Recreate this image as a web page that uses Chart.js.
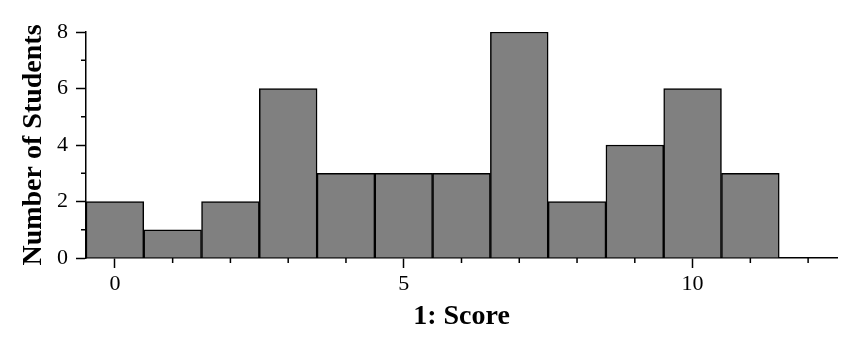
<!DOCTYPE html>
<html>
<head>
<meta charset="utf-8">
<script src="https://cdn.jsdelivr.net/npm/chart.js@4/dist/chart.umd.min.js"></script>
<style>
    body { margin: 0; background: #fff; }
</style>
</head>
<body>
<canvas id="canvasScores" width="852" height="355"></canvas>
<script>
const scores = [0, 1, 2, 3, 4, 5, 6, 7, 8, 9, 10, 11];
const students = [2, 1, 2, 6, 3, 3, 3, 8, 2, 4, 6, 3];
const xLabelTicks = [0, 5, 10];
const yLabelTicks = [0, 2, 4, 6, 8];

Chart.defaults.font.family = "'Liberation Serif', 'Times New Roman', serif";
Chart.defaults.color = '#000';

// Chart.js draws the long ticks, this adds the short unlabelled ones
const minorTicks = {
    id: 'minorTicks',
    afterDraw(chart) {
        const ctx = chart.ctx;
        const x = chart.scales.x;
        const y = chart.scales.y;
        ctx.save();
        ctx.strokeStyle = '#000';
        ctx.lineWidth = 1.5;
        ctx.beginPath();
        x.ticks.forEach(t => {
            if (xLabelTicks.includes(t.value)) return;
            const px = x.getPixelForValue(t.value);
            ctx.moveTo(px, x.top);
            ctx.lineTo(px, x.top + 5);
        });
        y.ticks.forEach(t => {
            if (yLabelTicks.includes(t.value)) return;
            const py = y.getPixelForValue(t.value);
            ctx.moveTo(x.left, py);
            ctx.lineTo(x.left - 5, py);
        });
        ctx.stroke();
        ctx.restore();
    }
};

// one tick per whole score between the axis ends
const integerTicks = scale => {
    const ticks = [];
    for (let v = Math.ceil(scale.min); v <= Math.floor(scale.max); v++) {
        ticks.push({value: v});
    }
    scale.ticks = ticks;
};

const majorColor = list => c => (c.tick && list.includes(c.tick.value)) ? '#000' : 'transparent';

const scoreCanvas = document.getElementById('canvasScores');
const scoreChart = new Chart(scoreCanvas, {
    type: 'bar',
    data: {
        datasets: [{
            label: 'Students',
            data: scores.map((s, i) => ({x: s, y: students[i]})),
            backgroundColor: '#808080',
            borderColor: '#000',
            borderWidth: 1.5,
            barPercentage: 1,
            categoryPercentage: 1
        }]
    },
    options: {
        responsive: false,
        animation: false,
        layout: {padding: {top: 32, right: 15, left: 0, bottom: 0}},
        plugins: {legend: {display: false}, tooltip: {enabled: false}},
        scales: {
            x: {
                type: 'linear',
                offset: false,
                min: -0.5,
                max: 12.5,
                afterBuildTicks: integerTicks,
                afterFit: s => { s.height = 97; },
                ticks: {
                    font: {size: 22},
                    padding: 3,
                    maxRotation: 0,
                    autoSkip: false,
                    callback: v => xLabelTicks.includes(v) ? String(v) : ''
                },
                grid: {
                    offset: false,
                    drawOnChartArea: false,
                    tickLength: 10,
                    tickWidth: 1.5,
                    tickColor: majorColor(xLabelTicks)
                },
                border: {color: '#000', width: 1.5},
                title: {
                    display: true,
                    text: '1: Score',
                    font: {size: 28, weight: 'bold'},
                    padding: {top: 0, bottom: 21}
                }
            },
            y: {
                min: 0,
                max: 8,
                afterFit: s => { s.width = 86; },
                ticks: {
                    stepSize: 1,
                    font: {size: 22},
                    padding: 8,
                    autoSkip: false,
                    callback: v => yLabelTicks.includes(v) ? String(v) : ''
                },
                grid: {
                    drawOnChartArea: false,
                    tickLength: 10,
                    tickWidth: 1.5,
                    tickColor: majorColor(yLabelTicks)
                },
                border: {color: '#000', width: 1.5},
                title: {
                    display: true,
                    text: 'Number of Students',
                    font: {size: 28, weight: 'bold'},
                    padding: {top: 17, bottom: 0}
                }
            }
        }
    },
    plugins: [minorTicks]
});
</script>
</body>
</html>
